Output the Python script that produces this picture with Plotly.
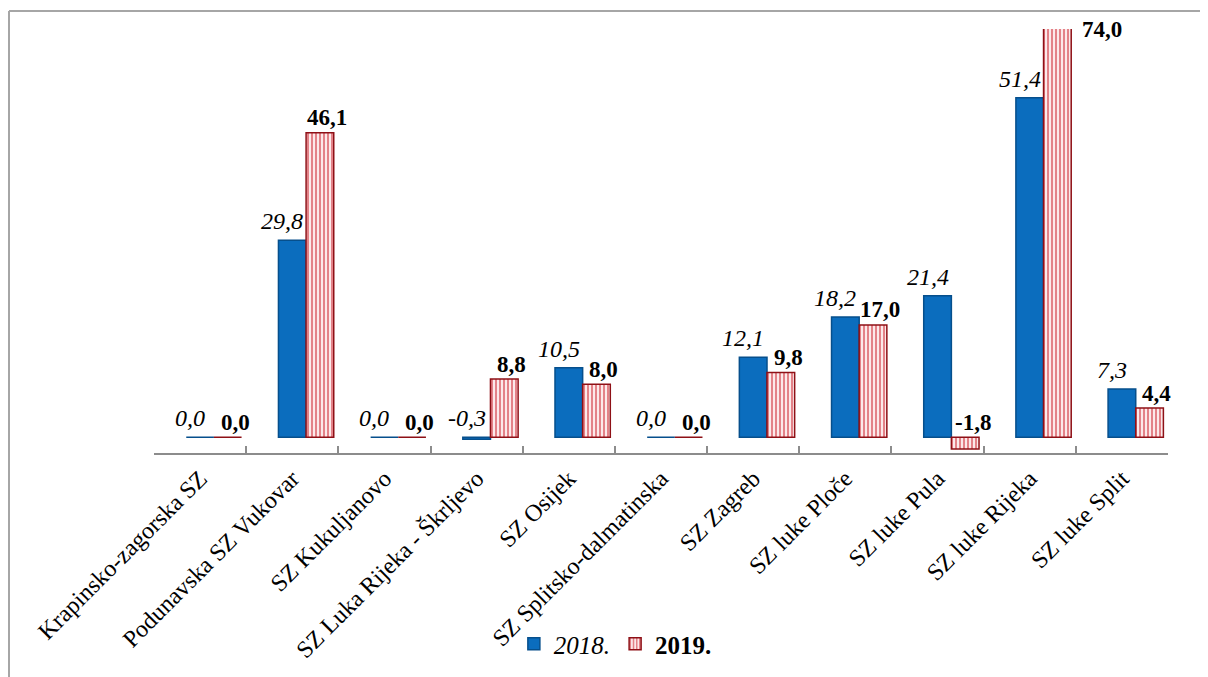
import plotly.graph_objects as go

categories = ["Krapinsko-zagorska SZ", "Podunavska SZ Vukovar", "SZ Kukuljanovo",
              "SZ Luka Rijeka - Škrljevo", "SZ Osijek", "SZ Splitsko-dalmatinska",
              "SZ Zagreb", "SZ luke Ploče", "SZ luke Pula", "SZ luke Rijeka", "SZ luke Split"]
values_2018 = [0.0, 29.8, 0.0, -0.3, 10.5, 0.0, 12.1, 18.2, 21.4, 51.4, 7.3]
values_2019 = [0.0, 46.1, 0.0, 8.8, 8.0, 0.0, 9.8, 17.0, -1.8, 74.0, 4.4]
series_names = ["2018.", "2019."]

Y_MIN, Y_MAX = -2.4, 61.8
BAR_W = 0.30
FONT = "Liberation Serif, Times New Roman, serif"
BLUE = "#0B6DBE"
RED = "#C8101C"

fig = go.Figure()
fig.add_trace(go.Bar(
    x=categories, y=values_2018, name="<i>" + series_names[0] + "</i>",
    width=BAR_W, offset=-BAR_W / 2,
    marker=dict(color=BLUE, line=dict(color="#064F8C", width=1.5)),
))
fig.add_trace(go.Bar(
    x=categories, y=values_2019, name="<b>" + series_names[1] + "</b>",
    width=BAR_W, offset=BAR_W / 2,
    marker=dict(color="#FBE3E3", line=dict(color="#8E1016", width=1.5),
                pattern=dict(shape="|", fgcolor=RED, bgcolor="#FFF4F4", size=4, solidity=0.55)),
))

def fmt(v):
    return f"{v:.1f}".replace(".", ",")

annotations = []
for cat, v in zip(categories, values_2018):
    annotations.append(dict(
        x=cat, y=min(max(v, 0), Y_MAX), text="<i>" + fmt(v) + "</i>",
        xref="x", yref="y", showarrow=False, xshift=-10, yshift=19,
        yanchor="middle", font=dict(family=FONT, size=24, color="black")))
for cat, v in zip(categories, values_2019):
    clipped = v > Y_MAX
    annotations.append(dict(
        x=cat, y=min(max(v, 0), Y_MAX), text="<b>" + fmt(v) + "</b>",
        xref="x", yref="y", showarrow=False,
        xshift=72 if clipped else 35, yshift=0 if clipped else 15,
        yanchor="middle", font=dict(family=FONT, size=23, color="black")))

border = dict(color="#A6A6A6", width=2)
FIG_W, FIG_H = 1208, 677
# page body has an 8px default margin, so the plot area is placed 8px up/left
fig.update_layout(
    width=FIG_W, height=FIG_H,
    margin=dict(l=146, r=FIG_W - 146 - 1014, t=21, b=FIG_H - 21 - 424),
    paper_bgcolor="white", plot_bgcolor="white",
    barmode="overlay",
    showlegend=True,
    legend=dict(orientation="h", x=0.455, xanchor="center",
                yref="container", y=(FIG_H - 636) / FIG_H, yanchor="middle",
                bgcolor="rgba(0,0,0,0)",
                font=dict(family=FONT, size=25, color="black"),
                itemwidth=30, traceorder="normal"),
    annotations=annotations,
    font=dict(family=FONT, color="black"),
    shapes=[
        dict(type="line", xref="paper", yref="paper", x0=-0.143, x1=1.2, y0=1.0425, y1=1.0425, line=border),
        dict(type="line", xref="paper", yref="paper", x0=-0.143, x1=-0.143, y0=-0.6, y1=1.0425, line=border),
    ],
)
fig.update_xaxes(
    type="category", range=[-0.5, 10.5],
    showline=True, linecolor="#8C8C8C", linewidth=2,
    ticks="inside", tickson="boundaries", ticklen=7, tickcolor="#8C8C8C", tickwidth=2,
    tickangle=-45, tickfont=dict(family=FONT, size=24, color="black"),
    showgrid=False, automargin=False,
)
fig.update_yaxes(range=[Y_MIN, Y_MAX], visible=False, showgrid=False, zeroline=False)

fig.write_html("out.html")
